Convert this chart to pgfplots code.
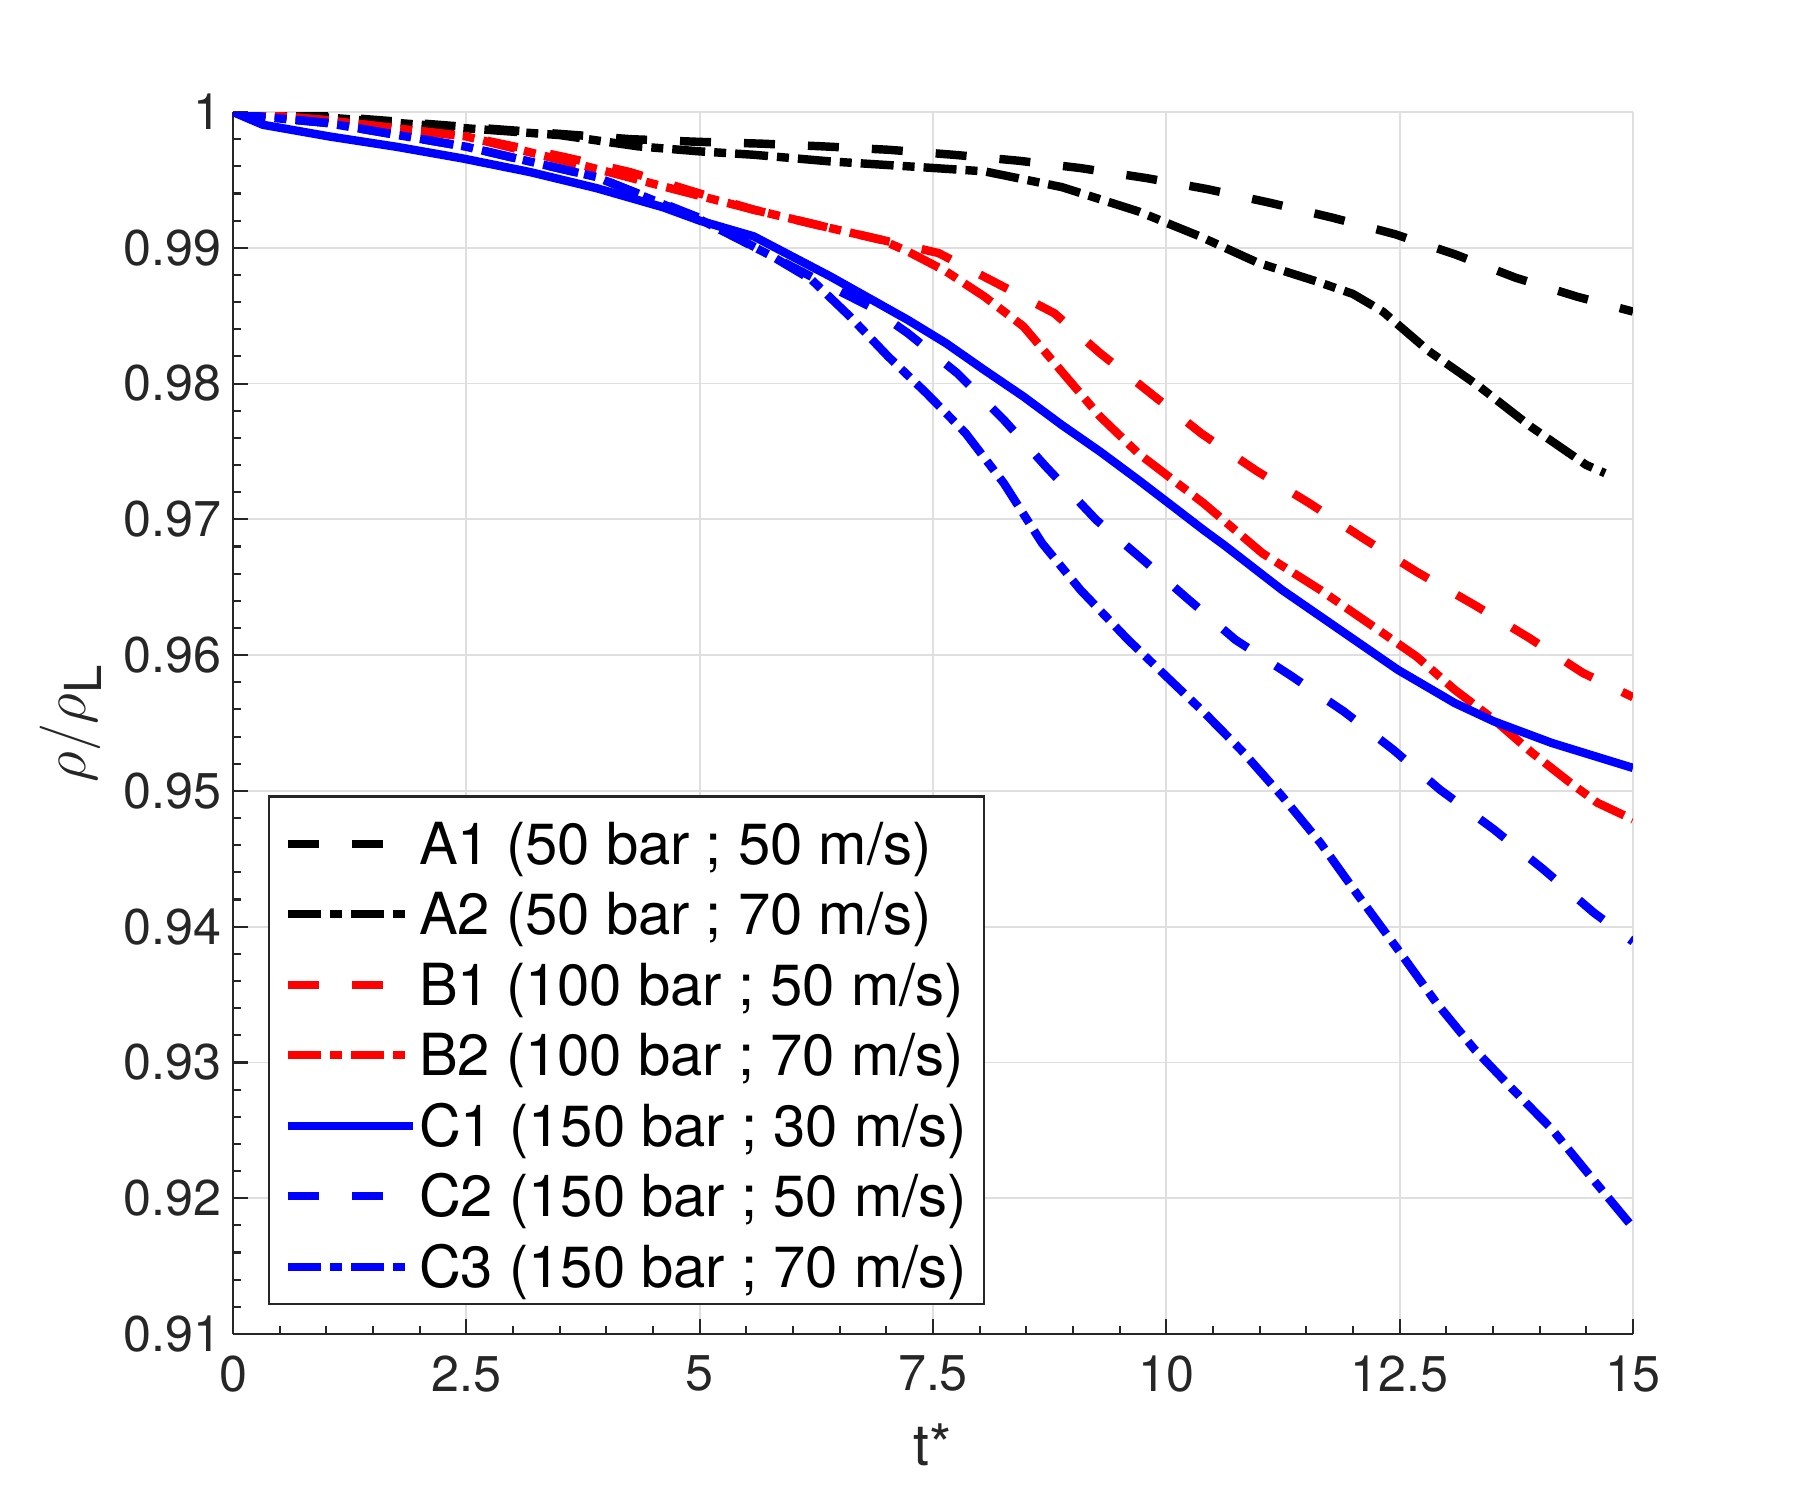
\documentclass[border=0pt]{standalone}
\usepackage{fontspec}
\setmainfont{TeX Gyre Heros}
\usepackage{pgfplots}
\usepackage{pgfplotstable}
\pgfplotsset{compat=1.18}
\definecolor{axiscol}{RGB}{38,38,38}
\definecolor{gridcol}{RGB}{223,223,223}

\pgfplotstableread{
t v
0 1.0000
1 0.9997
2.5 0.9989
4.26 0.9980
5 0.9978
5.66 0.99767
6.32 0.99747
7.02 0.99722
7.72 0.99685
8.42 0.99641
9.08 0.99587
9.79 0.99513
10.44 0.99432
11.12 0.9933
11.79 0.9922
12.45 0.9910
13.1 0.9895
13.74 0.9878
14.4 0.9864
15 0.9853
}\dataAone

\pgfplotstableread{
t v
0 1.0000
1 0.9996
2.5 0.9988
3.5 0.9983
4.34 0.99747
5 0.9971
5.58 0.99685
6.4 0.99636
7.23 0.9960
8.05 0.99563
8.88 0.99447
9.7 0.99268
10.36 0.99084
10.98 0.9889
11.62 0.9875
12.0 0.9866
12.32 0.9853
12.81 0.9824
13.35 0.9798
13.91 0.9768
14.5 0.9740
14.7 0.9734
}\dataAtwo

\pgfplotstableread{
t v
0 1.0000
1 0.9994
2.5 0.9982
3.54 0.9967
4.25 0.99558
5 0.9940
5.58 0.9928
6.4 0.99145
6.94 0.9906
7.56 0.98961
8.18 0.9874
8.8 0.98518
9.29 0.98224
9.83 0.97929
10.38 0.9763
10.96 0.9736
11.53 0.9712
12.11 0.9686
12.69 0.9661
13.3 0.9637
13.88 0.9613
14.46 0.9587
15 0.9569
}\dataBone

\pgfplotstableread{
t v
0 1.0000
1 0.9994
2.5 0.9982
3.93 0.99575
4.75 0.99427
5.58 0.9928
6.4 0.99145
6.94 0.9906
7.23 0.98973
7.64 0.98826
8.05 0.98641
8.47 0.9842
8.88 0.98088
9.29 0.97757
9.7 0.97486
10.12 0.97265
10.4 0.97118
11.03 0.9675
11.65 0.9648
12.27 0.96186
12.68 0.9599
13.09 0.95745
13.51 0.95525
13.92 0.9528
14.33 0.95059
14.62 0.94912
15 0.94789
}\dataBtwo

\pgfplotstableread{
t v
0 1.0000
0.32 0.99906
1.04 0.99819
1.75 0.99744
2.46 0.99658
3.18 0.99558
3.89 0.99440
4.61 0.99298
5 0.9920
5.58 0.99084
6.4 0.98789
7.23 0.98469
7.64 0.98297
8.05 0.98100
8.47 0.97904
8.88 0.97695
9.29 0.97499
9.7 0.97290
10.12 0.97069
10.4 0.96921
10.62 0.9681
11.24 0.9648
11.86 0.96186
12.48 0.95892
13.09 0.95647
13.51 0.95512
14.13 0.95353
15 0.95169
}\dataCone

\pgfplotstableread{
t v
0 1.0000
0.3 0.99965
1 0.9992
2.5 0.99744
3.9 0.9952
5 0.9922
5.74 0.98950
6.4 0.98715
6.82 0.98568
7.23 0.98371
7.76 0.98076
8.26 0.97732
8.71 0.97388
9.25 0.96995
9.77 0.9669
10.22 0.9642
10.74 0.96113
11.32 0.95855
11.9 0.95586
12.43 0.95304
12.93 0.9501
13.51 0.94716
14.04 0.94422
14.58 0.94103
15 0.9389
}\dataCtwo

\pgfplotstableread{
t v
0 1.0000
0.3 0.99965
1 0.9992
2.5 0.99744
3.9 0.9952
5 0.9921
5.78 0.98936
6.2 0.98764
6.61 0.98494
7.02 0.98199
7.43 0.97929
7.85 0.97634
8.26 0.97265
8.67 0.96823
9.08 0.96480
9.59 0.96113
10 0.95843
10.41 0.95574
10.83 0.9528
11.24 0.94961
11.65 0.94618
12.06 0.94225
12.48 0.93833
12.89 0.93442
13.3 0.93098
13.71 0.92803
14.13 0.92509
14.54 0.92165
15 0.91784
}\dataCthree

\tikzset{
  mdash/.style={dash pattern=on 0.31cm off 0.33cm},
  mdashdot/.style={dash pattern=on 0.33cm off 0.09cm on 0.12cm off 0.09cm},
}

\begin{document}
\begin{tikzpicture}
\useasboundingbox (-2.33cm,-1.66cm) rectangle (15.67cm,13.34cm);
\begin{axis}[
  at={(0,0)}, anchor=south west,
  scale only axis, width=14cm, height=12.22cm,
  xmin=0, xmax=15, ymin=0.91, ymax=1,
  xtick={0,2.5,5,7.5,10,12.5,15},
  xticklabels={0,2.5,5,7.5,10,12.5,15},
  ytick={0.91,0.92,0.93,0.94,0.95,0.96,0.97,0.98,0.99,1},
  yticklabels={0.91,0.92,0.93,0.94,0.95,0.96,0.97,0.98,0.99,1},
  minor x tick num=4, minor y tick num=4,
  axis x line*=bottom, axis y line*=left,
  tick align=inside,
  major tick length=0.15cm, minor tick length=0.08cm,
  axis line style={color=axiscol, line width=0.6pt},
  every tick/.style={color=axiscol, line width=0.6pt},
  grid=major,
  major grid style={color=gridcol, line width=0.5pt},
  /pgf/number format/assume math mode=true,
  tick label style={font=\fontsize{14.3}{16}\selectfont, color=axiscol},
  xticklabel style={yshift=-0.09cm},
  yticklabel style={xshift=0.01cm},
  xlabel={t*},
  ylabel={$\rho/\rho_{\mbox{\fontsize{14.5}{15}\selectfont L}}$},
  every axis x label/.style={at={(axis description cs:0.5,-0.0728)}, anchor=north, inner sep=0pt, font=\fontsize{16.3}{18}\selectfont, color=axiscol},
  every axis y label/.style={at={(axis description cs:-0.116,0.5)}, anchor=center, rotate=90, inner sep=0pt, font=\fontsize{16.3}{18}\selectfont, color=axiscol},
  legend cell align=left,
  legend style={at={(0.025,0.0237)}, anchor=south west,
    draw=axiscol, line width=0.6pt, fill=white,
    inner xsep=0.15cm, inner ysep=0.07cm,
    column sep=0cm, row sep=0pt,
    font=\fontsize{16.5}{18}\selectfont,
    nodes={inner xsep=0.02cm, inner ysep=0.05cm, text height=0.56cm, text depth=0.045cm}},
  legend image code/.code={\draw[#1, line width=2.3pt] (0cm,-0.05cm) -- (1.25cm,-0.05cm);},
  every axis plot/.append style={line width=2.4pt, line cap=butt, line join=round},
]
\addplot[black, mdash] table[x=t,y=v] {\dataAone};
\addlegendentry{A1 (50 bar ; 50 m/s)}
\addplot[black, mdashdot] table[x=t,y=v] {\dataAtwo};
\addlegendentry{A2 (50 bar ; 70 m/s)}
\addplot[red, mdash] table[x=t,y=v] {\dataBone};
\addlegendentry{B1 (100 bar ; 50 m/s)}
\addplot[red, mdashdot] table[x=t,y=v] {\dataBtwo};
\addlegendentry{B2 (100 bar ; 70 m/s)}
\addplot[blue, solid] table[x=t,y=v] {\dataCone};
\addlegendentry{C1 (150 bar ; 30 m/s)}
\addplot[blue, mdash] table[x=t,y=v] {\dataCtwo};
\addlegendentry{C2 (150 bar ; 50 m/s)}
\addplot[blue, mdashdot] table[x=t,y=v] {\dataCthree};
\addlegendentry{C3 (150 bar ; 70 m/s)}
\end{axis}
\end{tikzpicture}
\end{document}
